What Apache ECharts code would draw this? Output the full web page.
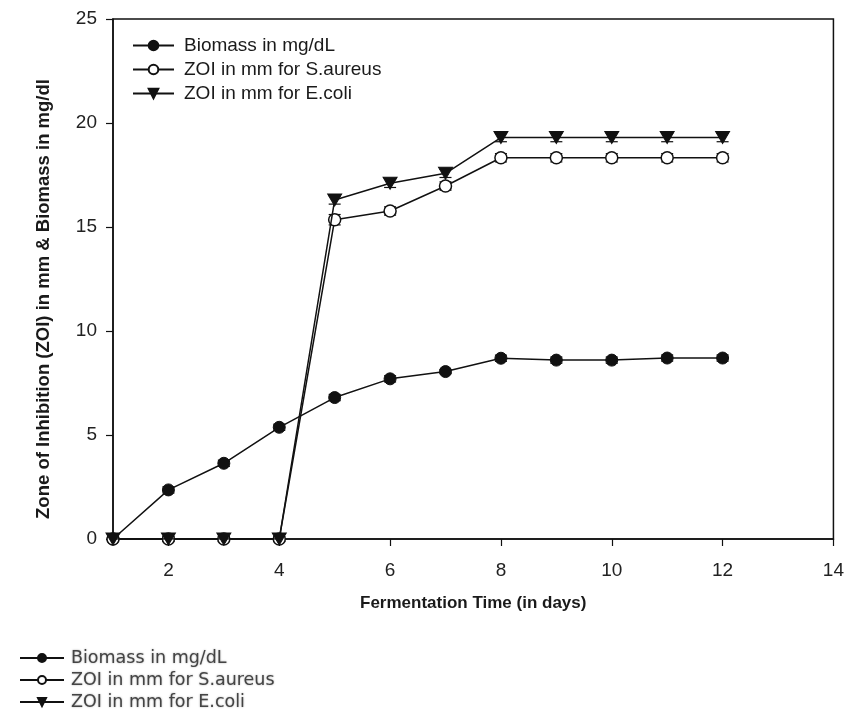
<!DOCTYPE html>
<html>
<head>
<meta charset="utf-8">
<style>
  html, body { margin: 0; padding: 0; background: #fff; }
  #chart { width: 847px; height: 713px; }
</style>
<script src="https://cdn.jsdelivr.net/npm/echarts@6/dist/echarts.min.js"></script>
</head>
<body>
<div id="chart"></div>
<script>
// Fermentation day for each measurement
const days = [1, 2, 3, 4, 5, 6, 7, 8, 9, 10, 11, 12];

// Biomass (mg/dL)
const biomass = [0, 2.36, 3.64, 5.37, 6.8, 7.7, 8.05, 8.69, 8.6, 8.6, 8.7, 8.7];
const biomassErr = [0.1, 0.15, 0.15, 0.15, 0.15, 0.15, 0.1, 0.15, 0.15, 0.15, 0.15, 0.15];

// Zone of inhibition (mm) against S. aureus
const zoiSaureus = [0, 0, 0, 0, 15.35, 15.77, 16.97, 18.33, 18.33, 18.33, 18.33, 18.33];
const zoiSaureusErr = [0.1, 0.1, 0.1, 0.1, 0.25, 0.2, 0.2, 0.2, 0.2, 0.2, 0.2, 0.2];

// Zone of inhibition (mm) against E. coli
const zoiEcoli = [0, 0, 0, 0, 16.3, 17.1, 17.58, 19.3, 19.3, 19.3, 19.3, 19.3];
const zoiEcoliErr = [0.1, 0.1, 0.1, 0.1, 0.2, 0.2, 0.2, 0.2, 0.2, 0.2, 0.2, 0.2];

// Axis ticks
const xTicks = [2, 4, 6, 8, 10, 12, 14];
const seriesNames = ['Biomass in mg/dL', 'ZOI in mm for S.aureus', 'ZOI in mm for E.coli'];
const yTitle = 'Zone of Inhibition (ZOI) in mm & Biomass in mg/dl';

const pairs = (ys) => days.map((d, i) => [d, ys[i]]);
const errRows = (ys, es) => days.map((d, i) => [d, ys[i] - es[i], ys[i] + es[i]]);

// Vertical error bar with small horizontal caps
function errorBar(params, api) {
  const lo = api.coord([api.value(0), api.value(1)]);
  const hi = api.coord([api.value(0), api.value(2)]);
  const w = 6;
  const style = { stroke: '#111', lineWidth: 1.2 };
  return {
    type: 'group',
    children: [
      { type: 'line', shape: { x1: lo[0], y1: lo[1], x2: hi[0], y2: hi[1] }, style },
      { type: 'line', shape: { x1: lo[0] - w, y1: lo[1], x2: lo[0] + w, y2: lo[1] }, style },
      { type: 'line', shape: { x1: hi[0] - w, y1: hi[1], x2: hi[0] + w, y2: hi[1] }, style }
    ]
  };
}

const chart = echarts.init(document.getElementById('chart'), null, { renderer: 'canvas' });

const axisFont = 'Liberation Sans, Arial, sans-serif';

chart.setOption({
  animation: false,
  backgroundColor: '#fff',
  grid: {
    left: 113, right: 13, top: 19, bottom: 174,
    show: true, borderColor: '#111', borderWidth: 1.5, backgroundColor: 'transparent'
  },
  graphic: [
    {
      type: 'text', x: 44, y: 299, rotation: Math.PI / 2,
      style: {
        text: yTitle, align: 'center', verticalAlign: 'middle',
        fontFamily: axisFont, fontWeight: 'bold', fontSize: 18.5, fill: '#1a1a1a'
      }
    }
  ],
  xAxis: {
    type: 'value', min: 1, max: 14,
    name: 'Fermentation Time (in days)',
    nameLocation: 'middle', nameGap: 56,
    nameTextStyle: { fontFamily: axisFont, fontWeight: 'bold', fontSize: 17, color: '#1a1a1a' },
    axisLine: { show: true, lineStyle: { color: '#111', width: 1.5 } },
    axisTick: { show: true, length: 7, inside: false, customValues: xTicks, lineStyle: { color: '#111', width: 1.2 } },
    axisLabel: { customValues: xTicks, margin: 22, fontFamily: axisFont, fontSize: 19, color: '#222' },
    splitLine: { show: false }
  },
  yAxis: {
    type: 'value', min: 0, max: 25, interval: 5,
    axisLine: { show: true, lineStyle: { color: '#111', width: 1.5 } },
    axisTick: { show: true, length: 7, inside: false, lineStyle: { color: '#111', width: 1.2 } },
    axisLabel: { margin: 16, fontFamily: axisFont, fontSize: 19, color: '#222' },
    splitLine: { show: false }
  },
  legend: [
    {
      data: seriesNames,
      orient: 'vertical', left: 132, top: 36, padding: 0,
      itemWidth: 41, itemHeight: 12, itemGap: 5,
      selectedMode: false,
      textStyle: { fontFamily: axisFont, fontSize: 19, color: '#1a1a1a', padding: [0, 0, 0, 5] }
    },
    {
      data: seriesNames,
      orient: 'vertical', left: 19, top: 649, padding: 0, height: 70,
      itemWidth: 44, itemHeight: 10, itemGap: 4,
      selectedMode: false,
      textStyle: {
        fontFamily: 'DejaVu Sans, sans-serif', fontSize: 17.5, color: '#444',
        padding: [0, 0, 0, 2], textShadowColor: 'rgba(0,0,0,0.35)', textShadowBlur: 2
      }
    }
  ],
  series: [
    {
      type: 'custom', name: 'biomass-err', renderItem: errorBar, z: 1,
      data: errRows(biomass, biomassErr), silent: true
    },
    {
      type: 'custom', name: 'saureus-err', renderItem: errorBar, z: 1,
      data: errRows(zoiSaureus, zoiSaureusErr), silent: true
    },
    {
      type: 'custom', name: 'ecoli-err', renderItem: errorBar, z: 1,
      data: errRows(zoiEcoli, zoiEcoliErr), silent: true
    },
    {
      type: 'line', name: seriesNames[0], data: pairs(biomass), z: 3,
      symbol: 'circle', symbolSize: 12, showAllSymbol: true,
      lineStyle: { color: '#111', width: 1.5 },
      itemStyle: { color: '#111', borderColor: '#111', borderWidth: 1 }
    },
    {
      type: 'line', name: seriesNames[1], data: pairs(zoiSaureus), z: 4,
      symbol: 'circle', symbolSize: 12, showAllSymbol: true,
      lineStyle: { color: '#111', width: 1.5 },
      itemStyle: { color: '#fff', borderColor: '#111', borderWidth: 1.5 }
    },
    {
      type: 'line', name: seriesNames[2], data: pairs(zoiEcoli), z: 5,
      symbol: 'triangle', symbolRotate: 180, symbolSize: [14, 12], showAllSymbol: true,
      lineStyle: { color: '#111', width: 1.5 },
      itemStyle: { color: '#111', borderColor: '#111', borderWidth: 1 }
    }
  ]
});
</script>
</body>
</html>
